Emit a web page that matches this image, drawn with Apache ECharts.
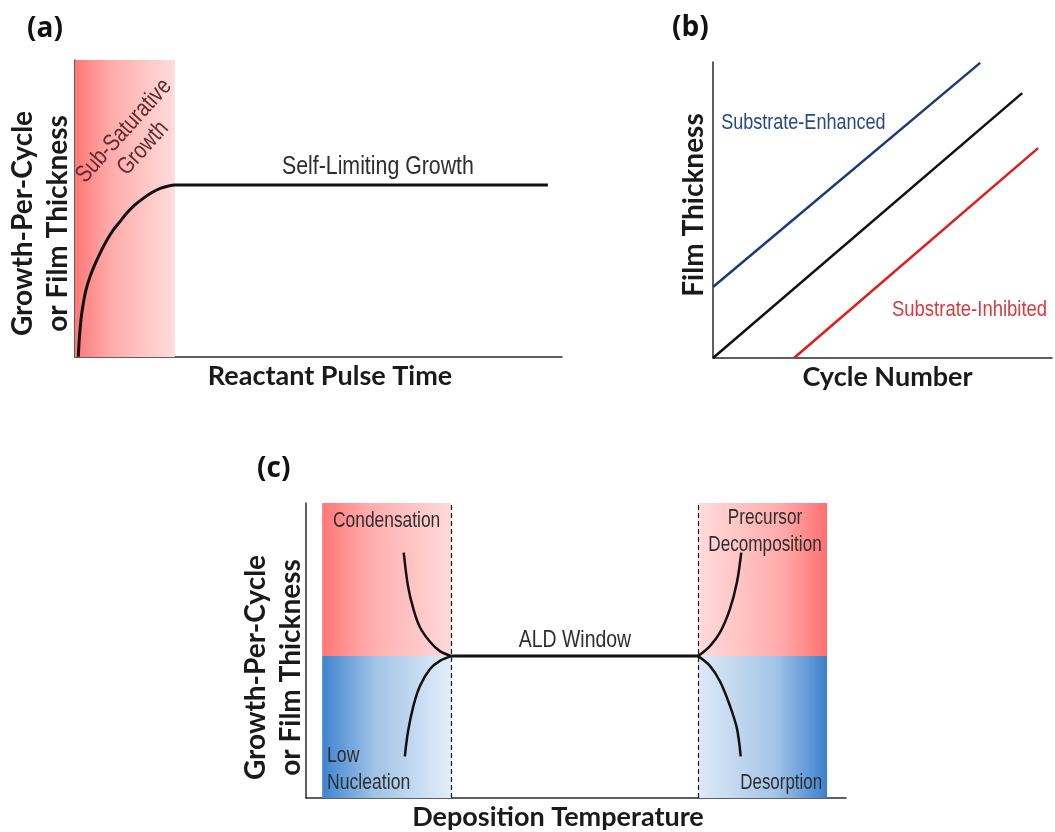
<!DOCTYPE html>
<html>
<head>
<meta charset="utf-8">
<script src="https://cdn.jsdelivr.net/npm/echarts@6/dist/echarts.min.js"></script>
<style>
html,body{margin:0;padding:0;background:#fff;}
#chart{width:1055px;height:832px;}
</style>
</head>
<body>
<div id="chart"></div>
<script>
// ---------- Panel (a): growth vs reactant pulse time ----------
const pulseTime = [0.68, 0.82, 1.03, 1.30, 1.71, 2.26, 3.08, 4.04, 5.13, 6.50, 7.87, 9.24, 10.6, 12.3, 14.0, 15.7, 17.5, 19.2, 20.5, 97.1];
const growthA   = [0.1, 4.6, 9.1, 13.6, 18.1, 22.6, 27.0, 31.0, 34.9, 39.2, 42.8, 45.6, 48.4, 51.2, 53.4, 55.3, 56.8, 57.6, 57.9, 57.9];
const subSatRange = [0, 20.5];

// ---------- Panel (b): thickness vs cycle number ----------
const cycleIdeal = [0, 91.2];   const thickIdeal = [0, 89.5];
const cycleEnh   = [0, 78.8];   const thickEnh   = [24.0, 99.7];
const cycleInh   = [23.9, 95.9]; const thickInh  = [0, 70.9];

// ---------- Panel (c): GPC vs deposition temperature ----------
const tempLowUp  = [18.1, 18.9, 19.9, 21.1, 23.0, 24.8, 26.9];
const gpcLowUp   = [83.2, 71.7, 64.0, 57.9, 52.9, 49.8, 48.1];
const tempLowDn  = [18.3, 18.9, 19.9, 21.1, 23.0, 24.8, 26.9];
const gpcLowDn   = [14.1, 22.6, 31.3, 38.0, 43.8, 46.5, 48.1];
const tempWindow = [26.9, 72.6];
const gpcWindow  = [48.1, 48.1];
const tempHighUp = [72.6, 74.8, 76.7, 78.5, 79.8, 80.6];
const gpcHighUp  = [48.1, 51.5, 56.2, 64.0, 73.1, 83.2];
const tempHighDn = [72.6, 74.8, 76.7, 78.5, 79.8, 80.5];
const gpcHighDn  = [48.1, 44.8, 39.4, 31.3, 23.6, 14.1];
const windowBounds = [26.85, 72.6];
const regionEdges  = [3.0, 96.5];
const gpcSplit = 48.1;

// ---------- annotation texts ----------
const panelLabels = ['(a)', '(b)', '(c)'];
const axisTitles = {
  a: ['Reactant Pulse Time', 'Growth-Per-Cycle\nor Film Thickness'],
  b: ['Cycle Number', 'Film Thickness'],
  c: ['Deposition Temperature', 'Growth-Per-Cycle\nor Film Thickness']
};

const zip = (xs, ys) => xs.map((x, i) => [x, ys[i]]);

const NARROW = "'Liberation Sans', Arial, sans-serif";
const BOLD = "Lato,'Open Sans',sans-serif";
const AXIS_COLOR = '#2b2b2b';
const TXT = '#2e2e2e';

function grad(stops) {
  return new echarts.graphic.LinearGradient(0, 0, 1, 0, stops.map(c => ({offset: c[0], color: c[1]})));
}
function xAxisCfg(gi, name, pad) {
  return {
    type: 'value', gridIndex: gi, min: 0, max: 100,
    axisLine: {show: true, onZero: false, lineStyle: {color: AXIS_COLOR, width: 1.5}},
    axisTick: {show: false}, axisLabel: {show: false}, splitLine: {show: false},
    name: name, nameLocation: 'middle', nameGap: 6,
    nameTextStyle: {fontFamily: BOLD, fontWeight: 'bold', fontSize: 27, color: '#1a1a1a', padding: pad}
  };
}
function yAxisCfg(gi, name, pad, gap) {
  return {
    type: 'value', gridIndex: gi, min: 0, max: 100,
    axisLine: {show: true, onZero: false, lineStyle: {color: AXIS_COLOR, width: 1.5}},
    axisTick: {show: false}, axisLabel: {show: false}, splitLine: {show: false},
    name: name, nameLocation: 'middle', nameRotate: 90, nameGap: gap,
    nameTextStyle: {fontFamily: BOLD, fontWeight: 'bold', fontSize: 28, lineHeight: 35, color: '#1a1a1a', padding: pad}
  };
}
function lineSeries(gi, data, color, width, extra) {
  return Object.assign({
    type: 'line', xAxisIndex: gi, yAxisIndex: gi, data: data, symbol: 'none',
    lineStyle: {color: color, width: width}, silent: true, z: 4, animation: false
  }, extra || {});
}
function areaSeries(gi, areas, lines) {
  const s = {
    type: 'line', xAxisIndex: gi, yAxisIndex: gi, data: [], silent: true, z: 1, animation: false,
    markArea: {silent: true, data: areas}
  };
  if (lines) {
    s.markLine = {silent: true, symbol: 'none', label: {show: false},
      lineStyle: {color: '#1a1a1a', width: 1.2, type: [5, 3]}, data: lines.map(v => ({xAxis: v}))};
  }
  return s;
}

const chart = echarts.init(document.getElementById('chart'), null, {renderer: 'canvas'});

chart.setOption({
  backgroundColor: '#ffffff',
  animation: false,
  grid: [
    {left: 75, top: 60, width: 487, height: 297},
    {left: 713, top: 62, width: 339, height: 296},
    {left: 306, top: 503, width: 540, height: 297}
  ],
  xAxis: [
    xAxisCfg(0, axisTitles.a[0], [0, 0, 0, 23]),
    xAxisCfg(1, axisTitles.b[0], [0, 0, 0, 10]),
    xAxisCfg(2, axisTitles.c[0], [0, 36, 0, 0])
  ],
  yAxis: [
    yAxisCfg(0, axisTitles.a[1], [0, 30, 0, 0], 0),
    yAxisCfg(1, axisTitles.b[1], [0, 0, 0, 10], 2),
    yAxisCfg(2, axisTitles.c[1], [0, 34, 0, 0], -2)
  ],
  series: [
    // ----- (a) -----
    areaSeries(0, [[
      {xAxis: subSatRange[0], yAxis: 0, itemStyle: {color: grad([[0, '#ff7878'], [0.35, '#ffaaaa'], [1, '#ffdcdc']])}},
      {xAxis: subSatRange[1], yAxis: 100}
    ]]),
    lineSeries(0, zip(pulseTime, growthA), '#111', 3, {smooth: 0.2}),

    // ----- (b) -----
    lineSeries(1, zip(cycleEnh, thickEnh), '#1c3a7a', 2.5),
    lineSeries(1, zip(cycleIdeal, thickIdeal), '#111', 2.5),
    lineSeries(1, zip(cycleInh, thickInh), '#e01c1c', 2.5),

    // ----- (c) -----
    areaSeries(2, [
      [{xAxis: regionEdges[0], yAxis: gpcSplit, itemStyle: {color: grad([[0, '#ff7676'], [0.35, '#ffaaaa'], [1, '#ffdada']])}},
       {xAxis: windowBounds[0], yAxis: 100}],
      [{xAxis: regionEdges[0], yAxis: 0, itemStyle: {color: grad([[0, '#3e84cf'], [0.4, '#9fc2e6'], [1, '#e3eef9']])}},
       {xAxis: windowBounds[0], yAxis: gpcSplit}],
      [{xAxis: windowBounds[1], yAxis: gpcSplit, itemStyle: {color: grad([[0, '#ffdcdc'], [0.65, '#ffaaaa'], [1, '#ff7070']])}},
       {xAxis: regionEdges[1], yAxis: 100}],
      [{xAxis: windowBounds[1], yAxis: 0, itemStyle: {color: grad([[0, '#dfeaf7'], [0.6, '#a3c4e7'], [1, '#3b80cc']])}},
       {xAxis: regionEdges[1], yAxis: gpcSplit}]
    ], windowBounds),
    lineSeries(2, zip(tempLowUp, gpcLowUp), '#111', 2.5, {smooth: 0.35}),
    lineSeries(2, zip(tempLowDn, gpcLowDn), '#111', 2.5, {smooth: 0.35}),
    lineSeries(2, zip(tempWindow, gpcWindow), '#111', 3),
    lineSeries(2, zip(tempHighUp, gpcHighUp), '#111', 2.5, {smooth: 0.35}),
    lineSeries(2, zip(tempHighDn, gpcHighDn), '#111', 2.5, {smooth: 0.35})
  ]
});

// Annotation texts anchored in data coordinates, converted via the chart's own axes.
const notes = [
  {g: 0, at: [12.0, 73.2], text: 'Sub-Saturative\nGrowth', size: 24, sx: 0.82, color: '#642a2a', rot: 48, align: 'center', lh: 26},
  {g: 0, at: [62.2, 64.0], text: 'Self-Limiting Growth', size: 26, sx: 0.82, color: TXT, align: 'center'},
  {g: 1, at: [2.4, 79.4], text: 'Substrate-Enhanced', size: 22, sx: 0.82, color: '#2b4787', align: 'left'},
  {g: 1, at: [52.8, 16.2], text: 'Substrate-Inhibited', size: 22, sx: 0.84, color: '#d93a40', align: 'left'},
  {g: 2, at: [5.0, 93.9], text: 'Condensation', size: 22, sx: 0.79, color: TXT, align: 'left'},
  {g: 2, at: [85.0, 90.4], text: 'Precursor\nDecomposition', size: 22, sx: 0.78, color: TXT, align: 'center', lh: 27},
  {g: 2, at: [49.8, 53.5], text: 'ALD Window', size: 24, sx: 0.81, color: TXT, align: 'center'},
  {g: 2, at: [3.9, 9.6], text: 'Low\nNucleation', size: 22, sx: 0.8, color: TXT, align: 'left', lh: 27},
  {g: 2, at: [88.0, 5.05], text: 'Desorption', size: 22, sx: 0.77, color: TXT, align: 'center'}
];

const graphics = notes.map(n => {
  const p = chart.convertToPixel({gridIndex: n.g}, n.at);
  return {
    type: 'text', x: p[0], y: p[1], scaleX: n.sx, scaleY: 1,
    rotation: (n.rot || 0) * Math.PI / 180, silent: true, z: 10,
    style: {text: n.text, fontFamily: NARROW, fontSize: n.size, fill: n.color,
      align: n.align, verticalAlign: 'middle', lineHeight: n.lh || n.size * 1.2}
  };
});
graphics.push(
  {type: 'text', left: 27, top: 15, style: {text: panelLabels[0], font: "bold 28px 'Open Sans'", fill: '#111'}},
  {type: 'text', left: 672, top: 14, style: {text: panelLabels[1], font: "bold 28px 'Open Sans'", fill: '#111'}},
  {type: 'text', left: 257, top: 455, style: {text: panelLabels[2], font: "bold 28px 'Open Sans'", fill: '#111'}}
);
chart.setOption({graphic: graphics});
</script>
</body>
</html>
